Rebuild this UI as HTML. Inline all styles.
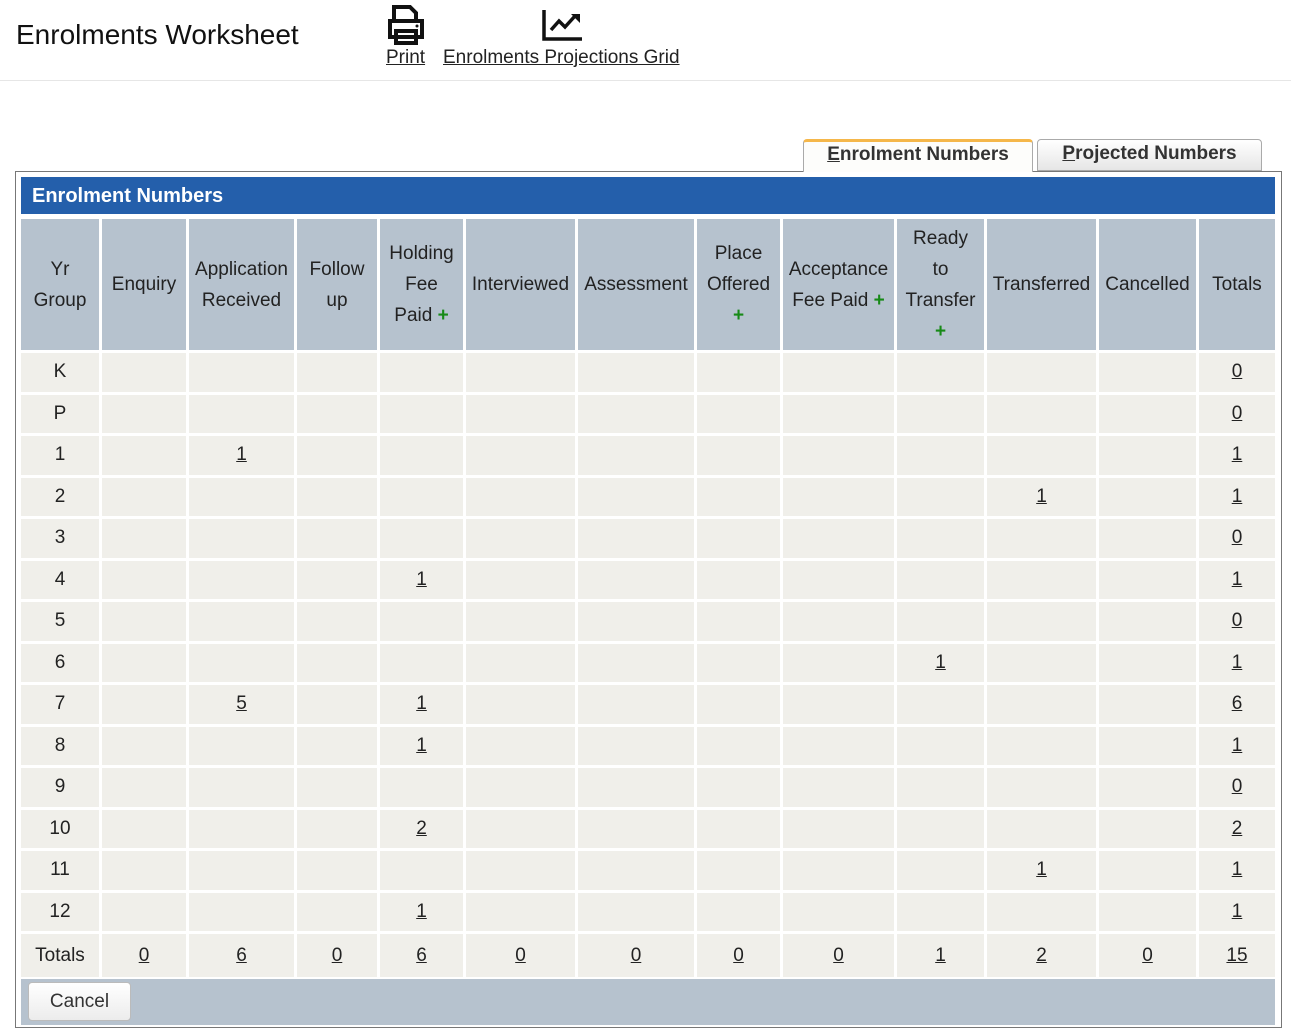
<!DOCTYPE html>
<html><head><style>
body{margin:0;width:1291px;height:1034px;background:#fff;font-family:"Liberation Sans",sans-serif;position:relative;overflow:hidden;color:#222}
.a{position:absolute}
u{text-decoration:underline}
table{position:absolute;left:18px;top:216px;border-collapse:separate;border-spacing:3px;table-layout:fixed;font-size:19px}
th{background:#b6c2ce;font-weight:normal;line-height:31px;height:131px;padding:0;color:#222}
td{background:#f0efea;text-align:center;height:38.5px;padding:0}
tr.t td{height:43px}
.p{color:#178a17;font-weight:bold}
</style></head><body>
<div class="a" style="left:16px;top:19px;font-size:28px;color:#111">Enrolments Worksheet</div>
<svg class="a" style="left:386px;top:5px" width="40" height="40" viewBox="0 0 40 40"><path d="M8 2h16l6 6v8H8z M4 16h32v16H4z M10 26h20v12H10z" fill="none" stroke="#111" stroke-width="4"/><circle cx="31" cy="21" r="1.5" fill="#111"/></svg>
<svg class="a" style="left:541px;top:8px" width="42" height="34" viewBox="0 0 42 34"><path d="M3 2v29h38" fill="none" stroke="#111" stroke-width="3.5"/><path d="M10 22l8-9 6 6 10-11" fill="none" stroke="#111" stroke-width="3.5"/><path d="M30 6h9v9z" fill="#111"/></svg>
<div class="a" style="left:386px;top:47px;font-size:19px"><u>Print</u></div>
<div class="a" style="left:443px;top:47px;font-size:19px"><u>Enrolments Projections Grid</u></div>
<div class="a" style="left:0;top:80px;width:1291px;height:1px;background:#e6e6e6"></div>
<div class="a" style="left:803px;top:139px;width:230px;height:33px;background:#fdfdfb;border:1px solid #aaa;border-top:3px solid #f5b74a;border-bottom:none;border-radius:4px 4px 0 0;box-sizing:border-box;text-align:center;font-weight:bold;font-size:19px;line-height:25px;color:#333;z-index:2"><u>E</u>nrolment Numbers</div>
<div class="a" style="left:1037px;top:139px;width:225px;height:32px;background:linear-gradient(#fff,#e6e6e6);border:1px solid #aaa;border-radius:4px 4px 0 0;box-sizing:border-box;text-align:center;font-weight:bold;font-size:19px;line-height:27px;color:#333"><u>P</u>rojected Numbers</div>
<div class="a" style="left:15px;top:171px;width:1267px;height:857px;border:1px solid #777;box-sizing:border-box"></div>
<div class="a" style="left:21px;top:177px;width:1254px;height:37px;background:#245fab;color:#fff;font-weight:bold;font-size:20px;line-height:38px;padding-left:11px;box-sizing:border-box">Enrolment Numbers</div>
<table>
<colgroup><col style="width:78px"><col style="width:84px"><col style="width:105px"><col style="width:80px"><col style="width:83px"><col style="width:109px"><col style="width:116px"><col style="width:83px"><col style="width:111px"><col style="width:87px"><col style="width:109px"><col style="width:97px"><col style="width:76px"></colgroup>
<tr><th>Yr<br>Group</th><th>Enquiry</th><th>Application<br>Received</th><th>Follow<br>up</th><th>Holding<br>Fee<br>Paid <span class="p">+</span></th><th>Interviewed</th><th>Assessment</th><th>Place<br>Offered<br><span class="p">+</span></th><th>Acceptance<br>Fee Paid <span class="p">+</span></th><th>Ready<br>to<br>Transfer<br><span class="p">+</span></th><th>Transferred</th><th>Cancelled</th><th>Totals</th></tr>
<tr><td>K</td><td></td><td></td><td></td><td></td><td></td><td></td><td></td><td></td><td></td><td></td><td></td><td><u>0</u></td></tr>
<tr><td>P</td><td></td><td></td><td></td><td></td><td></td><td></td><td></td><td></td><td></td><td></td><td></td><td><u>0</u></td></tr>
<tr><td>1</td><td></td><td><u>1</u></td><td></td><td></td><td></td><td></td><td></td><td></td><td></td><td></td><td></td><td><u>1</u></td></tr>
<tr><td>2</td><td></td><td></td><td></td><td></td><td></td><td></td><td></td><td></td><td></td><td><u>1</u></td><td></td><td><u>1</u></td></tr>
<tr><td>3</td><td></td><td></td><td></td><td></td><td></td><td></td><td></td><td></td><td></td><td></td><td></td><td><u>0</u></td></tr>
<tr><td>4</td><td></td><td></td><td></td><td><u>1</u></td><td></td><td></td><td></td><td></td><td></td><td></td><td></td><td><u>1</u></td></tr>
<tr><td>5</td><td></td><td></td><td></td><td></td><td></td><td></td><td></td><td></td><td></td><td></td><td></td><td><u>0</u></td></tr>
<tr><td>6</td><td></td><td></td><td></td><td></td><td></td><td></td><td></td><td></td><td><u>1</u></td><td></td><td></td><td><u>1</u></td></tr>
<tr><td>7</td><td></td><td><u>5</u></td><td></td><td><u>1</u></td><td></td><td></td><td></td><td></td><td></td><td></td><td></td><td><u>6</u></td></tr>
<tr><td>8</td><td></td><td></td><td></td><td><u>1</u></td><td></td><td></td><td></td><td></td><td></td><td></td><td></td><td><u>1</u></td></tr>
<tr><td>9</td><td></td><td></td><td></td><td></td><td></td><td></td><td></td><td></td><td></td><td></td><td></td><td><u>0</u></td></tr>
<tr><td>10</td><td></td><td></td><td></td><td><u>2</u></td><td></td><td></td><td></td><td></td><td></td><td></td><td></td><td><u>2</u></td></tr>
<tr><td>11</td><td></td><td></td><td></td><td></td><td></td><td></td><td></td><td></td><td></td><td><u>1</u></td><td></td><td><u>1</u></td></tr>
<tr><td>12</td><td></td><td></td><td></td><td><u>1</u></td><td></td><td></td><td></td><td></td><td></td><td></td><td></td><td><u>1</u></td></tr>
<tr class="t"><td>Totals</td><td><u>0</u></td><td><u>6</u></td><td><u>0</u></td><td><u>6</u></td><td><u>0</u></td><td><u>0</u></td><td><u>0</u></td><td><u>0</u></td><td><u>1</u></td><td><u>2</u></td><td><u>0</u></td><td><u>15</u></td></tr>
</table>
<div class="a" style="left:21px;top:979px;width:1254px;height:46px;background:#b6c2ce"></div>
<div class="a" style="left:28px;top:982px;width:103px;height:39px;background:linear-gradient(#fff,#ececec);border:1px solid #bbb;border-radius:4px;box-sizing:border-box;text-align:center;line-height:37px;font-size:19px;color:#333">Cancel</div>
</body></html>
